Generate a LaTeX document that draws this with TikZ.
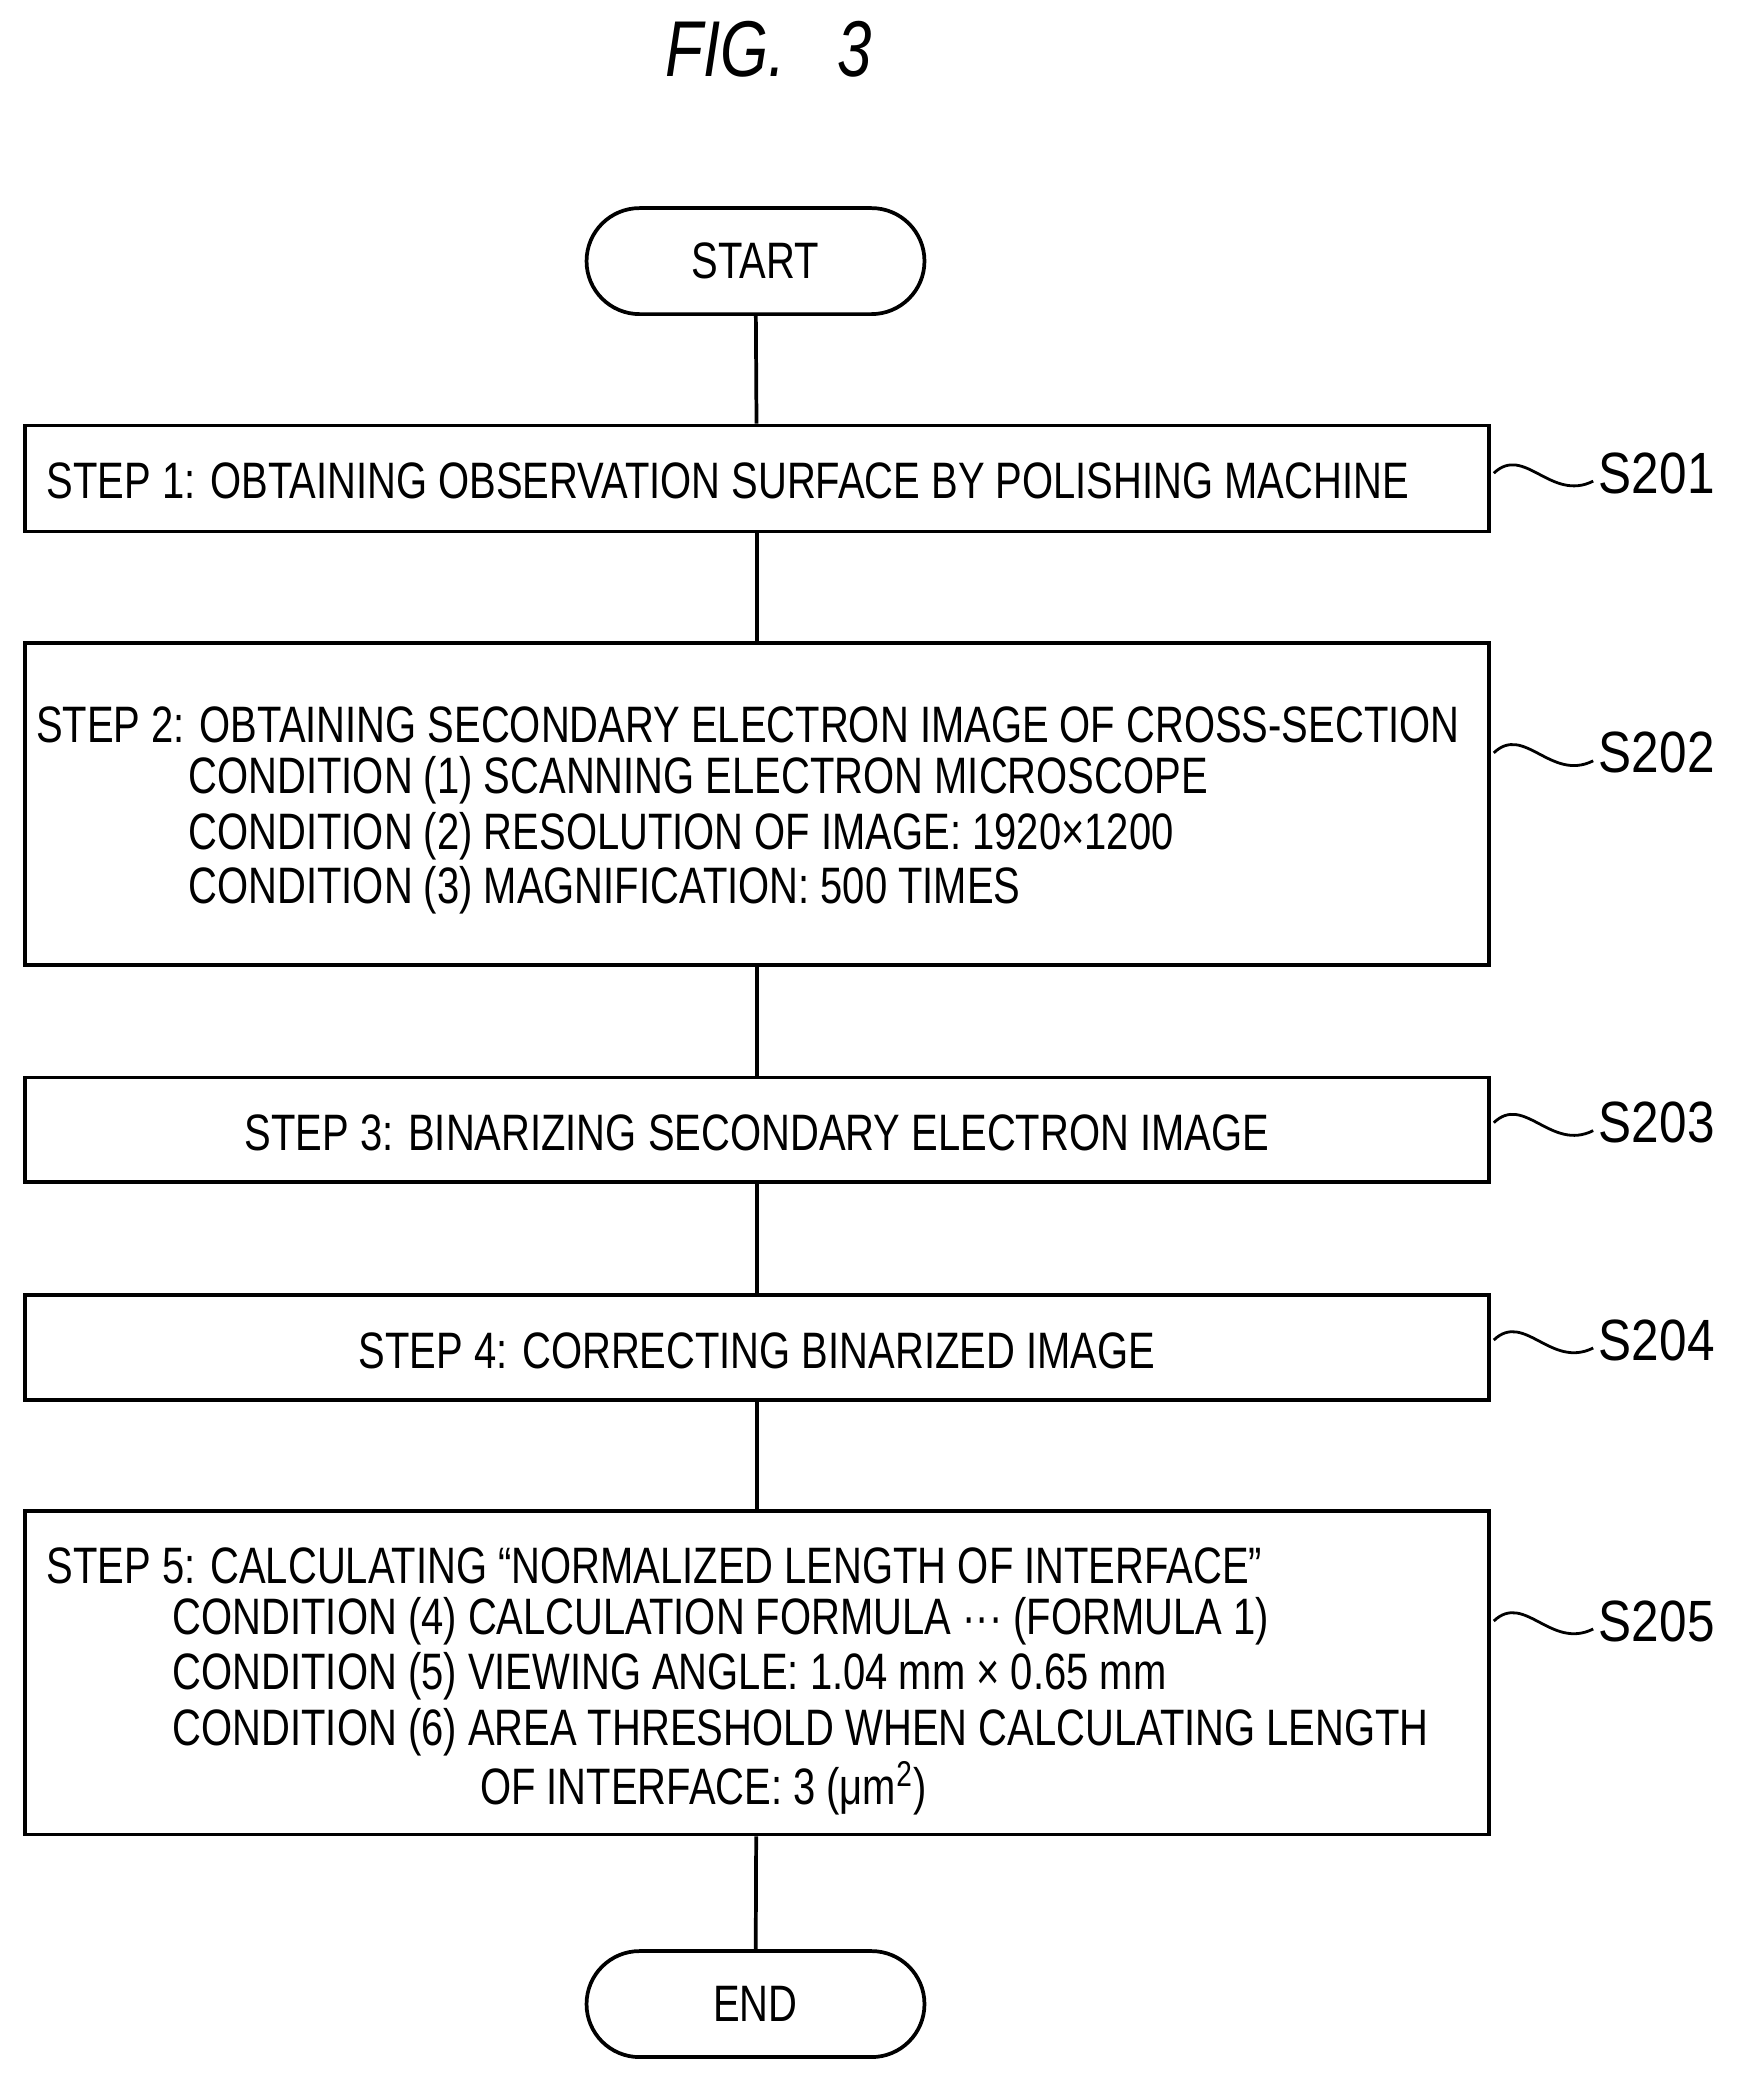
\documentclass[tikz,border=0pt]{standalone}
\usepackage{fontspec}
\setmainfont{Liberation Sans}[FakeStretch=0.78]
\begin{document}
\begin{tikzpicture}[x=0.02cm,y=-0.02cm,
  box/.style={draw,line width=1.6pt,inner sep=0pt},
  term/.style={draw,line width=1.6pt,minimum width=5.1cm,minimum height=1.6cm,font=\fontsize{22}{26}\selectfont},
  txt/.style={anchor=west,inner sep=0pt,font=\fontsize{22}{26}\selectfont},
  lab/.style={anchor=west,inner sep=0pt,font=\fontsize{25}{29}\selectfont\addfontfeatures{FakeStretch=0.85}},
  ln/.style={line width=1.6pt}]
\useasboundingbox (0,0) rectangle (1310,1564);
\node[font=\fontsize{34}{40}\selectfont\itshape] (title) at (580,37) {FIG.\ \ \ 3};
\node[term,rounded corners=0.8cm] (start) at (570,197) {START};
\node[term,rounded corners=0.8cm] (end) at (570,1512) {END};
\node[box,minimum width=22.1cm,minimum height=1.6cm] (b1) at (571,361) {};
\node[box,minimum width=22.1cm,minimum height=4.86cm] (b2) at (571,606.5) {};
\node[box,minimum width=22.1cm,minimum height=1.58cm] (b3) at (571,852.5) {};
\node[box,minimum width=22.1cm,minimum height=1.58cm] (b4) at (571,1016.5) {};
\node[box,minimum width=22.1cm,minimum height=4.88cm] (b5) at (571,1262) {};
\draw[ln] (start) -- (b1); \draw[ln] (b1) -- (b2); \draw[ln] (b2) -- (b3);
\draw[ln] (b3) -- (b4); \draw[ln] (b4) -- (b5); \draw[ln] (b5) -- (end);
\node[txt] (t1) at (35,363) {STEP 1: OBTAINING OBSERVATION SURFACE BY POLISHING MACHINE};
\node[txt] (t21) at (27,547) {STEP 2: OBTAINING SECONDARY ELECTRON IMAGE OF CROSS-SECTION};
\node[txt] (t22) at (142,589) {CONDITION (1) SCANNING ELECTRON MICROSCOPE};
\node[txt] (t23) at (142,631) {CONDITION (2) RESOLUTION OF IMAGE: 1920×1200};
\node[txt] (t24) at (142,672) {CONDITION (3) MAGNIFICATION: 500 TIMES};
\node[txt,anchor=center] (t3) at (571,855) {STEP 3: BINARIZING SECONDARY ELECTRON IMAGE};
\node[txt,anchor=center] (t4) at (571,1019) {STEP 4: CORRECTING BINARIZED IMAGE};
\node[txt] (t51) at (35,1181) {STEP 5: CALCULATING “NORMALIZED LENGTH OF INTERFACE”};
\node[txt] (t52) at (130,1223) {CONDITION (4) CALCULATION FORMULA ··· (FORMULA 1)};
\node[txt] (t53) at (130,1265) {CONDITION (5) VIEWING ANGLE: 1.04 mm × 0.65 mm};
\node[txt] (t54) at (130,1307) {CONDITION (6) AREA THRESHOLD WHEN CALCULATING LENGTH};
\node[txt] (t55) at (362,1349) {OF INTERFACE: 3 (μm\textsuperscript{2})};
\foreach \n/\y in {1/357,2/568,3/847,4/1011,5/1223}{
  \coordinate (a\n) at (1127,\y);
  \coordinate (c\n) at (1202,\y+6);
  \draw[line width=1.2pt] (a\n) .. controls (1150,\y-22) and (1170,\y+22) .. (c\n);
  \node[lab] (s\n) at (1206,\y) {S20\n};
}
\end{tikzpicture}
\end{document}
